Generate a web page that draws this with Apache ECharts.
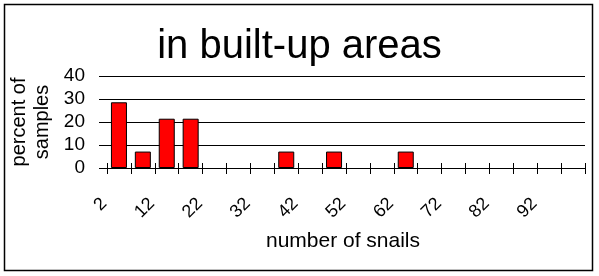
<!DOCTYPE html>
<html>
<head>
<meta charset="utf-8">
<script src="https://cdn.jsdelivr.net/npm/echarts@6/dist/echarts.min.js"></script>
<style>
html,body{margin:0;padding:0;background:#fff;}
#chart{width:599px;height:276px;}
</style>
</head>
<body>
<div id="chart"></div>
<script>
var titleText = 'in built-up areas';
var xAxisName = 'number of snails';
var yAxisName = 'percent of\nsamples';
var categories = ['2','7','12','17','22','27','32','37','42','47','52','57','62','67','72','77','82','87','92','97'];
var percentValues = [28.57, 7.14, 21.43, 21.43, 0, 0, 0, 7.14, 0, 7.14, 0, 0, 7.14, 0, 0, 0, 0, 0, 0, 0];
var yTicks = {min: 0, max: 40, interval: 10};

var FONT = 'Liberation Sans, Arial, sans-serif';
var barData = percentValues.map(function (v) { return v === 0 ? '-' : v; });
var chart = echarts.init(document.getElementById('chart'), null, {renderer: 'canvas'});
chart.setOption({
  animation: false,
  backgroundColor: '#ffffff',
  title: {
    text: titleText,
    left: 'center',
    top: 22,
    textStyle: {fontFamily: FONT, fontSize: 40, fontWeight: 'normal', color: '#000'}
  },
  graphic: [{
    type: 'rect',
    shape: {x: 4.5, y: 4.5, width: 588, height: 266},
    style: {fill: 'none', stroke: '#000', lineWidth: 1.5},
    silent: true
  }],
  grid: {left: 105, right: 14, top: 76, bottom: 108, containLabel: false},
  xAxis: [{
    type: 'category',
    data: categories,
    name: xAxisName,
    nameLocation: 'middle',
    nameGap: 63,
    nameTextStyle: {fontFamily: FONT, fontSize: 21, color: '#000', padding: [0, 6, 0, 0]},
    axisLine: {show: true, lineStyle: {color: '#000', width: 1}},
    axisTick: {show: true, interval: 0, length: 6, lineStyle: {color: '#000'}},
    axisLabel: {
      interval: 1, rotate: 45, margin: 18,
      fontFamily: FONT, fontSize: 18, color: '#000',
      formatter: function (v) { return '{t|' + v + '}{g| }'; },
      rich: {
        t: {fontFamily: FONT, fontSize: 18, color: '#000'},
        g: {width: 21, fontSize: 18}
      }
    },
    splitLine: {show: false}
  }, {
    type: 'category',
    data: categories,
    position: 'bottom',
    axisLine: {show: false},
    axisTick: {show: true, inside: true, interval: 0, length: 5, lineStyle: {color: '#000'}},
    axisLabel: {show: false},
    splitLine: {show: false}
  }],
  yAxis: {
    type: 'value',
    min: yTicks.min, max: yTicks.max, interval: yTicks.interval,
    name: yAxisName,
    nameLocation: 'middle',
    nameRotate: 90,
    nameGap: 53,
    nameMoveOverlap: false,
    nameTextStyle: {fontFamily: FONT, fontSize: 20, color: '#000', lineHeight: 23, align: 'center'},
    axisLine: {show: false},
    axisTick: {show: true, length: 8, lineStyle: {color: '#000'}},
    axisLabel: {margin: 22, fontFamily: FONT, fontSize: 19, color: '#000'},
    splitLine: {show: true, lineStyle: {color: '#000', width: 1}}
  },
  series: [{
    type: 'bar',
    data: barData,
    barCategoryGap: '33%',
    itemStyle: {color: '#ff0000', borderColor: '#000', borderWidth: 1},
    z: 3
  }]
});
</script>
</body>
</html>
